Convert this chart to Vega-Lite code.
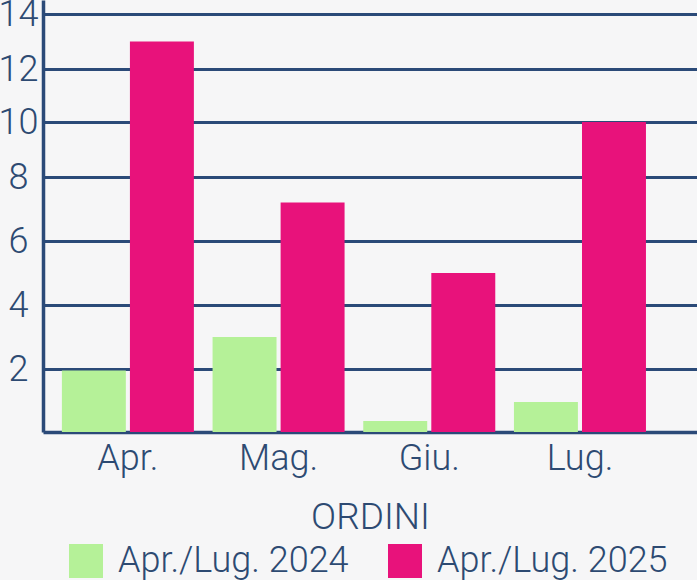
{
  "$schema": "https://vega.github.io/schema/vega-lite/v6.json",
  "width": 654,
  "height": 432,
  "autosize": "none",
  "padding": {"left": 43, "top": 0, "right": 0, "bottom": 148},
  "background": "#f6f6f7",
  "config": {
    "view": {"stroke": null},
    "font": "Roboto"
  },
  "data": {
    "values": [
      {"mese": "Apr.", "serie": "Apr./Lug. 2024", "valore": 1.95},
      {"mese": "Apr.", "serie": "Apr./Lug. 2025", "valore": 13},
      {"mese": "Mag.", "serie": "Apr./Lug. 2024", "valore": 3},
      {"mese": "Mag.", "serie": "Apr./Lug. 2025", "valore": 7.2},
      {"mese": "Giu.", "serie": "Apr./Lug. 2024", "valore": 0.35},
      {"mese": "Giu.", "serie": "Apr./Lug. 2025", "valore": 5},
      {"mese": "Lug.", "serie": "Apr./Lug. 2024", "valore": 0.95},
      {"mese": "Lug.", "serie": "Apr./Lug. 2025", "valore": 10}
    ]
  },
  "mark": {"type": "bar"},
  "encoding": {
    "x": {
      "field": "mese",
      "type": "nominal",
      "sort": ["Apr.", "Mag.", "Giu.", "Lug."],
      "title": "ORDINI",
      "scale": {"paddingInner": 0.124, "paddingOuter": 0.232, "align": 0.27},
      "axis": {
        "labelAngle": 0,
        "ticks": false,
        "labelPadding": 9,
        "labelFontSize": 36,
        "labelFontWeight": 300,
        "labelColor": "#2d4a72",
        "domainColor": "#2b4a78",
        "domainWidth": 3.5,
        "titleFontSize": 37,
        "titleFontWeight": 300,
        "titleColor": "#2d4a72",
        "titlePadding": 23
      }
    },
    "xOffset": {
      "field": "serie",
      "type": "nominal",
      "scale": {"paddingInner": 0.06, "paddingOuter": 0}
    },
    "y": {
      "field": "valore",
      "type": "quantitative",
      "scale": {
        "domain": [0, 2, 4, 6, 8, 10, 12, 14, 15],
        "range": [432, 369, 305, 241, 177, 122, 69, 14, 0],
        "nice": false,
        "zero": false
      },
      "axis": {
        "title": null,
        "values": [2, 4, 6, 8, 10, 12, 14],
        "ticks": false,
        "tickSize": 0,
        "labelAlign": "center",
        "labelBaseline": "middle",
        "labelPadding": 25,
        "labelFontSize": 36,
        "labelFontWeight": 300,
        "labelColor": "#2d4a72",
        "domainColor": "#2b4a78",
        "domainWidth": 3.5,
        "gridColor": "#2b4a78",
        "gridWidth": 3,
        "gridOpacity": 1
      }
    },
    "color": {
      "field": "serie",
      "type": "nominal",
      "scale": {"range": ["#b5f198", "#e8127b"]},
      "legend": {
        "orient": "none",
        "legendX": 25,
        "legendY": 543,
        "direction": "horizontal",
        "title": null,
        "symbolType": "square",
        "symbolSize": 1156,
        "symbolStrokeWidth": 0,
        "symbolOpacity": 1,
        "labelFontSize": 36,
        "labelFontWeight": 300,
        "labelColor": "#2d4a72",
        "labelOffset": 14,
        "labelLimit": 400,
        "columnPadding": 38
      }
    }
  }
}
